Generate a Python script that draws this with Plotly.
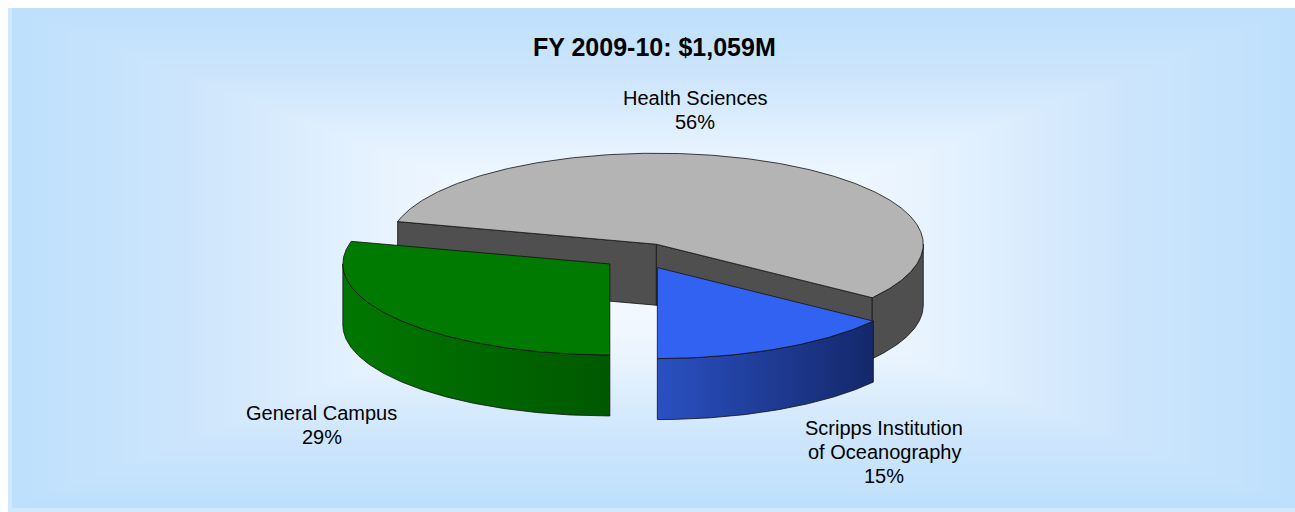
import numpy as np
import plotly.graph_objects as go

# ---------------- data ----------------
categories = ["Health Sciences", "Scripps Institution of Oceanography", "General Campus"]
shares = [56, 15, 29]                       # percent
label_lines = [["Health Sciences", "56%"],
               ["Scripps Institution", "of Oceanography", "15%"],
               ["General Campus", "29%"]]
title_text = "FY 2009-10: $1,059M"

# ---------------- style / layout ----------------
PAGE_W, PAGE_H = 1295, 512
OFF = 8                    # white page margin top/left; coordinates below are page pixels
W, H = PAGE_W - OFF, PAGE_H - OFF
CX, CY = 640, 256          # pie centre (px)
RX, RY = 267, 91           # ellipse radii (px)
DEPTH = 61                 # pie thickness (px)
EXPLODE = 0.143            # explosion as fraction of radius
START_DEG = 255.6          # angle of first slice edge (0 = front, ccw on screen)
top_colors = ["#B4B4B4", "#3162F2", "#007A00"]
side_colors = [("#4F4F4F", "#4F4F4F"), ("#2A50C2", "#14286A"), ("#007800", "#005800")]
label_pos = [(695, 98), (884, 428), (321.5, 413)]
LINE_GAP = 24
FONT = "Liberation Sans, Arial, sans-serif"

fig = go.Figure()

# ---------------- background (rectangular "from centre" gradient) ----------------
def hex2rgb(h):
    h = h.lstrip("#")
    return np.array([int(h[i:i + 2], 16) for i in (0, 2, 4)], dtype=float)

bg_stops = [(0.0, "#F6FAFF"), (0.3, "#F0F7FF"), (0.45, "#E6F2FE"),
            (0.6, "#D8EBFD"), (0.75, "#CCE5FC"), (1.0, "#BEE0FC")]

def bg_color(t):
    for (t0, c0), (t1, c1) in zip(bg_stops[:-1], bg_stops[1:]):
        if t <= t1:
            f = (t - t0) / (t1 - t0)
            c = hex2rgb(c0) * (1 - f) + hex2rgb(c1) * f
            return "rgb(%d,%d,%d)" % tuple(np.round(c))
    c = hex2rgb(bg_stops[-1][1])
    return "rgb(%d,%d,%d)" % tuple(c)

shapes = []
shapes.append(dict(type="rect", xref="x", yref="y", x0=OFF, x1=PAGE_W, y0=OFF, y1=PAGE_H,
                   fillcolor="#D2E8FC", line=dict(width=0), layer="below"))
bx0, bx1, by0, by1 = 12, 1299, 8, 508
bcx, bcy = (bx0 + bx1) / 2, (by0 + by1) / 2
bw, bh = (bx1 - bx0) / 2, (by1 - by0) / 2
N = 70
for i in range(N):
    t = 1 - i / N
    shapes.append(dict(type="rect", xref="x", yref="y",
                       x0=bcx - bw * t, x1=bcx + bw * t, y0=bcy - bh * t, y1=bcy + bh * t,
                       fillcolor=bg_color(t), line=dict(width=0), layer="below"))

# ---------------- 3-D exploded pie ----------------
def pt(ox, oy, th, z=0.0):
    r = np.radians(th)
    return ox + RX * np.sin(r), oy + RY * np.cos(r) + z

def arc(ox, oy, a, b, z=0.0):
    n = max(2, int(abs(b - a) / 0.5) + 1)
    th = np.linspace(a, b, n)
    r = np.radians(th)
    return list(ox + RX * np.sin(r)), list(oy + RY * np.cos(r) + z)

slices = []
cum = 0.0
for i, s in enumerate(shares):
    b = START_DEG - cum * 3.6
    a = b - s * 3.6
    cum += s
    mid = np.radians((a + b) / 2)
    ox = CX + EXPLODE * RX * np.sin(mid)
    oy = CY + EXPLODE * RY * np.cos(mid)
    slices.append(dict(i=i, a=a, b=b, ox=ox, oy=oy, depth_key=np.cos(mid)))

line_style = dict(color="#111111", width=0.8)

def add_poly(xs, ys, fill, grad=None):
    kw = dict(x=xs, y=ys, mode="lines", fill="toself", line=line_style,
              hoverinfo="skip", showlegend=False)
    if grad and grad[0] != grad[1]:
        kw["fillgradient"] = dict(type="horizontal",
                                  colorscale=[[0, grad[0]], [1, grad[1]]])
    else:
        kw["fillcolor"] = fill
    fig.add_trace(go.Scatter(**kw))

for sl in sorted(slices, key=lambda d: d["depth_key"]):
    i, a, b, ox, oy = sl["i"], sl["a"], sl["b"], sl["ox"], sl["oy"]
    c_side = side_colors[i]
    # radial cut faces
    for phi, vis in ((a, np.sin(np.radians(a)) > 1e-6), (b, np.sin(np.radians(b)) < -1e-6)):
        if vis:
            ex, ey = pt(ox, oy, phi)
            xs = [ox, ex, ex, ox, ox]
            ys = [oy, ey, ey + DEPTH, oy + DEPTH, oy]
            add_poly(xs, ys, c_side[0])
    # outer curved side (front half only)
    for k in (-1, 0, 1):
        lo, hi = max(a, -90 + 360 * k), min(b, 90 + 360 * k)
        if hi > lo:
            tx, ty = arc(ox, oy, lo, hi)
            bx, by = arc(ox, oy, hi, lo, DEPTH)
            add_poly(tx + bx + [tx[0]], ty + by + [ty[0]], c_side[0], c_side)
    # top face
    tx, ty = arc(ox, oy, a, b)
    add_poly([ox] + tx + [ox], [oy] + ty + [oy], top_colors[i])

# ---------------- text ----------------
annotations = [dict(x=654.5, y=47, xref="x", yref="y", text="<b>%s</b>" % title_text,
                    showarrow=False, font=dict(family=FONT, size=25, color="black"),
                    xanchor="center", yanchor="middle")]
for lines, (lx, ly) in zip(label_lines, label_pos):
    for j, ln in enumerate(lines):
        annotations.append(dict(x=lx, y=ly + j * LINE_GAP, xref="x", yref="y", text=ln,
                                showarrow=False, font=dict(family=FONT, size=20, color="black"),
                                xanchor="center", yanchor="middle"))

fig.update_layout(
    width=W, height=H, margin=dict(l=0, r=0, t=0, b=0),
    paper_bgcolor="white", plot_bgcolor="rgba(0,0,0,0)",
    xaxis=dict(range=[OFF, PAGE_W], visible=False, fixedrange=True, domain=[0, 1]),
    yaxis=dict(range=[PAGE_H, OFF], visible=False, fixedrange=True, domain=[0, 1]),
    shapes=shapes, annotations=annotations,
)

fig.write_html(
    "out.html",
    post_script="document.body.style.margin='%dpx 0 0 %dpx';"
                "document.body.style.overflow='hidden';" % (OFF, OFF),
)
